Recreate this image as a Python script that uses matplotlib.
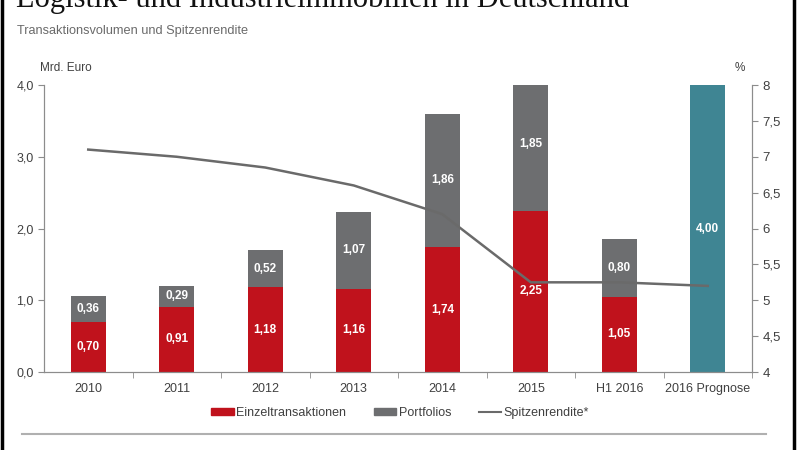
import matplotlib.pyplot as plt
from matplotlib.patches import Rectangle, Patch
from matplotlib.lines import Line2D
from matplotlib.ticker import FixedLocator

plt.rcParams['font.family'] = ['Liberation Sans Narrow', 'Liberation Sans', 'DejaVu Sans']

years = ['2010', '2011', '2012', '2013', '2014', '2015', 'H1 2016', '2016 Prognose']
einzel = [0.70, 0.91, 1.18, 1.16, 1.74, 2.25, 1.05, 0]
portfolios = [0.36, 0.29, 0.52, 1.07, 1.86, 1.85, 0.80, 0]
prognose = [0, 0, 0, 0, 0, 0, 0, 4.00]
rendite = [7.1, 7.0, 6.85, 6.6, 6.2, 5.25, 5.25, 5.2]

red = '#c0121c'
grey = '#6d6e70'
teal = '#3f8593'
txt = '#404040'
axc = '#8c8c8c'

fig = plt.figure(figsize=(8, 4.5), dpi=100)
ax = fig.add_axes([0.055, 0.1733, 0.885, 0.6378])
ax2 = ax.twinx()

x = list(range(len(years)))
w = 0.4
ax.bar(x, einzel, w, color=red, zorder=2)
ax.bar(x, portfolios, w, bottom=einzel, color=grey, zorder=2)
ax.bar(x, prognose, w, color=teal, zorder=2)

def fmt(v):
    return ('%.2f' % v).replace('.', ',')

for i in x:
    if einzel[i] > 0:
        ax.text(i, einzel[i] / 2, fmt(einzel[i]), ha='center', va='center',
                color='white', fontsize=8.5, fontweight='bold', zorder=4)
    if portfolios[i] > 0:
        ax.text(i, einzel[i] + portfolios[i] / 2, fmt(portfolios[i]), ha='center',
                va='center', color='white', fontsize=8.5, fontweight='bold', zorder=4)
    if prognose[i] > 0:
        ax.text(i, prognose[i] / 2, fmt(prognose[i]), ha='center', va='center',
                color='white', fontsize=8.5, fontweight='bold', zorder=4)

ax.set_xlim(-0.5, len(years) - 0.5)
ax.set_ylim(0, 4)
ax.set_yticks([0, 1, 2, 3, 4])
ax.set_yticklabels(['0,0', '1,0', '2,0', '3,0', '4,0'])
ax.set_xticks(x)
ax.set_xticklabels(years)
ax.xaxis.set_minor_locator(FixedLocator([i + 0.5 for i in x]))
ax.tick_params(axis='x', which='major', length=0, labelsize=9, colors=txt, pad=8)
ax.tick_params(axis='x', which='minor', length=4, color=axc)
ax.tick_params(axis='y', length=4, color=axc, labelsize=9, labelcolor=txt)

ax2.plot(x, rendite, color='#6a6a6a', lw=1.8, zorder=5)
ax2.set_ylim(4, 8)
ax2.set_yticks([4, 4.5, 5, 5.5, 6, 6.5, 7, 7.5, 8])
ax2.set_yticklabels(['4', '4,5', '5', '5,5', '6', '6,5', '7', '7,5', '8'])
ax2.tick_params(axis='y', length=4, color=axc, labelsize=9.5, labelcolor=txt)

for a in (ax, ax2):
    a.spines['top'].set_visible(False)
    for s in ('left', 'right', 'bottom'):
        a.spines[s].set_color(axc)
ax2.set_zorder(ax.get_zorder() + 1)
ax2.patch.set_visible(False)

fig.text(0.05, 0.842, 'Mrd. Euro', fontsize=8.5, color=txt)
fig.text(0.918, 0.842, '%', fontsize=8.5, color=txt)

# title cut off at the top edge of the image, as in the source
fig.text(0.02, 1 - 7 / 450, 'Logistik- und Industrieimmobilien in Deutschland',
         fontsize=22, family='Liberation Serif', va='baseline', color='#111111')
fig.text(0.021, 0.925, 'Transaktionsvolumen und Spitzenrendite', fontsize=9.2, color='#6a6a6a')

handles = [Patch(color=red), Patch(color=grey), Line2D([], [], color='#6a6a6a', lw=1.5)]
fig.legend(handles, ['Einzeltransaktionen', 'Portfolios', 'Spitzenrendite*'],
           loc='center', bbox_to_anchor=(0.5, 0.082), ncol=3, frameon=False,
           fontsize=9, handlelength=1.8, handleheight=0.5, handletextpad=0.2,
           columnspacing=2.2, labelcolor=txt)

fig.add_artist(Line2D([0.028, 0.958], [1 - 434 / 450] * 2, color='#b0b0b0', lw=1.5))
fig.add_artist(Rectangle((0.003, -0.1), 0.99, 1.2, fill=False, ec='black', lw=2.5,
                         transform=fig.transFigure))

fig.savefig('out.png', dpi=100)
